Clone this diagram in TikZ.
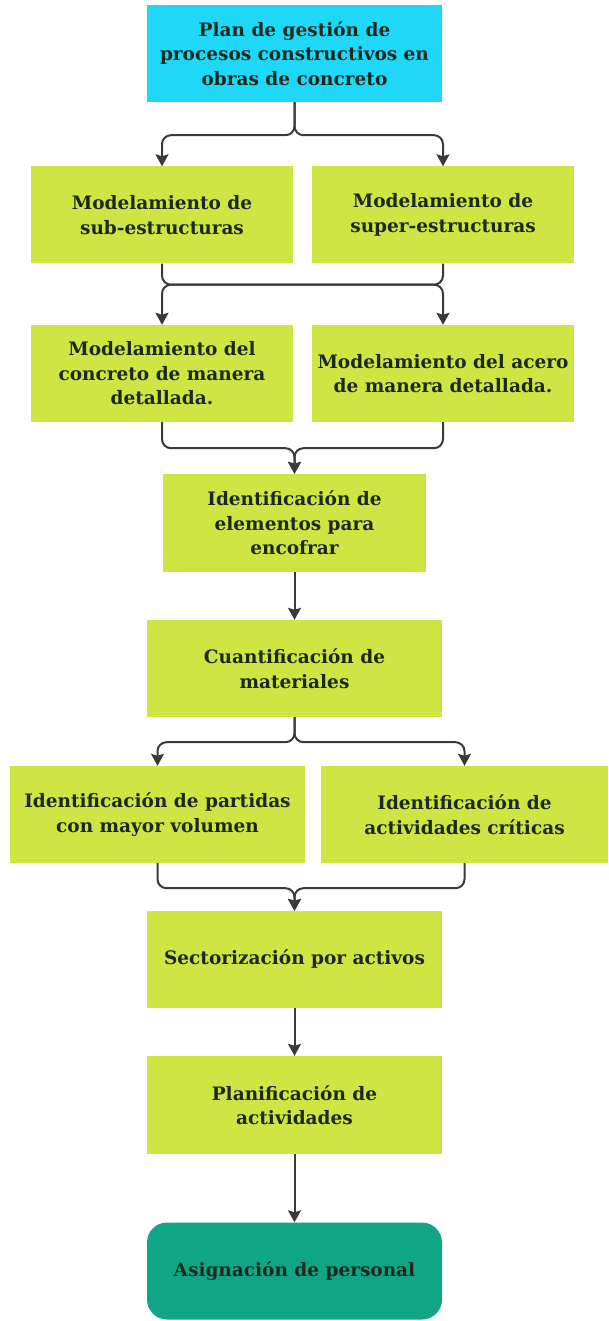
\documentclass[tikz,border=0pt]{standalone}
\usepackage{fontspec}
\setmainfont{DejaVu Serif}
\usepackage{tikz}
\usetikzlibrary{arrows.meta}
\definecolor{cielo}{HTML}{1FD8F8}
\definecolor{limon}{HTML}{CFE543}
\definecolor{verdeazul}{HTML}{10A585}
\definecolor{linea}{HTML}{3A3A3A}
\definecolor{letra}{HTML}{1C2A1E}

\tikzset{
  caja/.style={fill=limon, text=letra, inner sep=0pt, minimum height=97pt,
    align=center, font=\bfseries\fontsize{18.5}{24.5}\selectfont},
  flecha/.style={draw=linea, line width=2pt, rounded corners=9pt,
    -{Stealth[length=12pt,width=13pt,inset=2pt]}},
}

\begin{document}
\begin{tikzpicture}[x=1pt,y=-1pt]
        \useasboundingbox (0,0) rectangle (608,1321);

        \node[caja, fill=cielo, minimum width=295pt] (plan) at (294.5,53.5)
          {Plan de gestión de\\procesos constructivos en\\obras de concreto};

        \node[caja, minimum width=262pt] (sub) at (162,215)
          {Modelamiento de\\sub-estructuras};
        \node[caja, minimum width=262pt] (super) at (443,215)
          {Modelamiento de\\super-estructuras};

        \node[caja, minimum width=262pt] (conc) at (162,373.5)
          {Modelamiento del\\concreto de manera\\detallada.};
        \node[caja, minimum width=262pt] (acero) at (443,373.5)
          {Modelamiento del acero\\de manera detallada.};

        \node[caja, minimum width=263pt, minimum height=98pt] (encof) at (294.5,523)
          {Identificación de\\elementos para\\encofrar};
        \node[caja, minimum width=295pt] (cuant) at (294.5,668.5)
          {Cuantificación de\\materiales};

        \node[caja, minimum width=295pt] (part) at (157.5,814.5)
          {Identificación de partidas\\con mayor volumen};
        \node[caja, minimum width=287pt] (crit) at (464.5,814.5)
          {Identificación de\\actividades críticas};

        \node[caja, minimum width=295pt] (sect) at (294.5,959.5)
          {Sectorización por activos};
        \node[caja, minimum width=295pt, minimum height=98pt] (planif) at (294.5,1105)
          {Planificación de\\actividades};
        \node[caja, fill=verdeazul, minimum width=295pt, rounded corners=20pt] (asig) at (294.5,1271)
          {Asignación de personal};

        \draw[flecha] (plan.south) -- ++(0,33) -| (sub.north);
        \draw[flecha] (plan.south) -- ++(0,33) -| (super.north);

        \draw[flecha] (sub.south) -- ++(0,21) -| (acero.north);
        \draw[flecha] (super.south) -- ++(0,21) -| (conc.north);

        \draw[flecha] (conc.south) -- ++(0,26) -| (encof.north);
        \draw[flecha] (acero.south) -- ++(0,26) -| (encof.north);

        \draw[flecha] (encof) -- (cuant);

        \draw[flecha] (cuant.south) -- ++(0,25) -| (part.north);
        \draw[flecha] (cuant.south) -- ++(0,25) -| (crit.north);

        \draw[flecha] (part.south) -- ++(0,25) -| (sect.north);
        \draw[flecha] (crit.south) -- ++(0,25) -| (sect.north);

        \draw[flecha] (sect) -- (planif);
        \draw[flecha] (planif) -- (asig);

\end{tikzpicture}
\end{document}
